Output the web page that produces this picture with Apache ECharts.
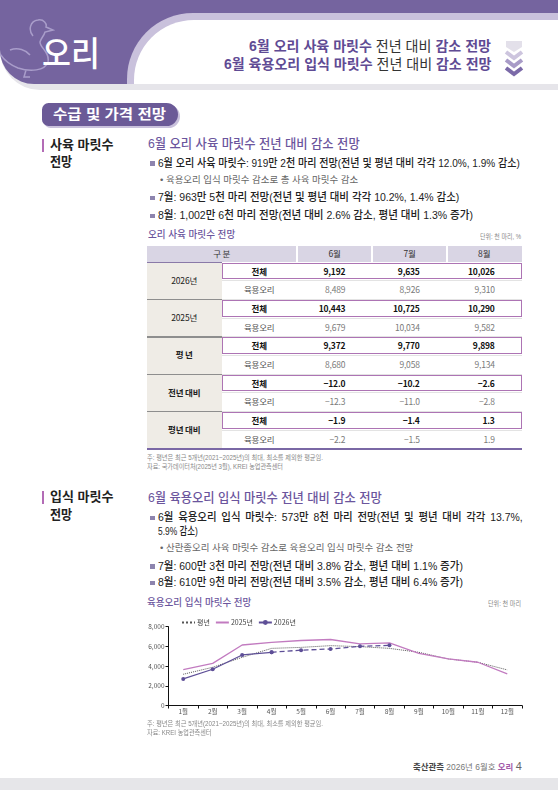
<!DOCTYPE html>
<html>
<head>
<meta charset="utf-8">
<script src="https://cdn.jsdelivr.net/npm/echarts@6/dist/echarts.min.js"></script>
<style>
  body { margin: 0; width: 558px; height: 790px; position: relative; overflow: hidden; background: #fff;
         font-family: "Noto Sans CJK KR", "Noto Sans", sans-serif; color: #222; }
  .t { position: absolute; white-space: nowrap; transform-origin: 0 50%;
       font-family: "Liberation Sans", "Noto Sans CJK KR", sans-serif; }
  .abs { position: absolute; }
  .purple { color: #5f4b94; font-weight: 700; }
</style>
</head>
<body>
<!-- header -->
<div class="abs" style="left:0;top:0;width:558px;height:90px;background:#e6e5ea;border-bottom-left-radius:40px;"></div>
<div class="abs" style="left:0;top:0;width:558px;height:84px;background:#75649f;border-bottom-left-radius:34px;"></div>
<div class="abs" style="left:127px;top:13px;width:431px;height:71px;background:#c9c1dc;border-top-left-radius:66px;"></div>
<div class="abs" style="left:134px;top:20px;width:424px;height:64px;background:#fff;border-top-left-radius:60px;"></div>
<svg class="abs" style="left:0;top:0" width="70" height="84">
  <path d="M33 36 C28 30 30 21 38 20 C44 19 47 24 46 27 L53 30 L45 32 C44 36 41 38 40 42 C40 48 50 52 48 62 C45 71 30 72 18 68 C10 65 4 60 0 54 M10 50 C18 47 26 50 30 55 M26 70 L24 77 L30 77" fill="none" stroke="#a99dca" stroke-width="1.5"/>
</svg>
<svg class="abs" style="left:504px;top:39px" width="20" height="40">
  <path d="M2 2 L18 2 L18 8 L10 13 L2 8 Z" fill="#e3e0ea"/>
  <polyline points="2,13 10,19 18,13" fill="none" stroke="#cdc5de" stroke-width="4"/>
  <polyline points="2,21 10,27 18,21" fill="none" stroke="#a89bc7" stroke-width="4"/>
  <polyline points="2,29 10,35 18,29" fill="none" stroke="#7b6aa8" stroke-width="4"/>
</svg>
<div class="abs" style="left:42px;top:103px;width:136px;height:23px;background:#6b5a97;border-radius:8px 14px 14px 8px;box-shadow:2px 2px 0 #c9c1dc;"></div>

<!-- section bars -->
<div class="abs" style="left:42px;top:139px;width:2.2px;height:13px;background:#b36cb6;"></div>
<div class="abs" style="left:42px;top:491px;width:2.2px;height:13px;background:#b36cb6;"></div>

<div id="table" class="abs" style="left:146.7px;top:246px;width:375px;height:203px;"></div>
<div id="chart" class="abs" style="left:140px;top:608px;width:400px;height:112px;"></div>

<div class="abs" style="left:0;top:778px;width:558px;height:12px;background:#e6e6e9;"></div>

<script>
// table data
const tableMonths = ['6월', '7월', '8월'];
const tableGroups = ['2026년', '2025년', '평 년', '전년 대비', '평년 대비'];
const rowLabels = ['전체', '육용오리'];
const totalRows = [
  [9192, 9635, 10026],
  [10443, 10725, 10290],
  [9372, 9770, 9898],
  [-12.0, -10.2, -2.6],
  [-1.9, -1.4, 1.3]
];
const broilerRows = [
  [8489, 8926, 9310],
  [9679, 10034, 9582],
  [8680, 9058, 9134],
  [-12.3, -11.0, -2.8],
  [-2.2, -1.5, 1.9]
];

// chart data
const chartMonths = ['1월', '2월', '3월', '4월', '5월', '6월', '7월', '8월', '9월', '10월', '11월', '12월'];
const avgValues = [3170, 3880, 4890, 5800, 5900, 6075, 5975, 5800, 5400, 4725, 4390, 3615];
const y2025Values = [3650, 4280, 6140, 6400, 6600, 6700, 6250, 6350, 5300, 4730, 4390, 3210];
const y2026Actual = [2700, 3680, 5130, 5400, null, null, null, null, null, null, null, null];
const y2026Forecast = [null, null, null, 5400, 5620, 5738, 6003, 6109, null, null, null, null];
const yMin = 0, yMax = 8000, yStep = 2000;

// text placement: squeeze each line (the print font is condensed) to the width seen in the reference
function place(html, x, y, size, w, css) {
  const el = document.createElement('div');
  el.className = 't';
  el.innerHTML = html;
  const lh = size * 1.08;
  el.style.cssText += 'left:' + x + 'px;top:' + (y - lh / 2) + 'px;font-size:' + size +
    'px;line-height:' + lh + 'px;' + (css || '');
  document.body.appendChild(el);
  if (w) {
    const nat = el.getBoundingClientRect().width;
    el.style.transform = 'scaleX(' + (w / nat) + ')';
  }
  return el;
}
function bullet(x, y) {
  const b = document.createElement('div');
  b.className = 'abs';
  b.style.cssText = 'left:' + x + 'px;top:' + (y - 2.3) + 'px;width:4.6px;height:4.6px;background:#8d84ae;';
  document.body.appendChild(b);
}

const P = s => '<span class="purple">' + s + '</span>';
place('오리', 42, 54, 34, 58, 'color:#fff;font-weight:500;');
place(P('6월 오리 사육 마릿수') + ' 전년 대비 ' + P('감소 전망'), 249, 46.7, 14, 242, 'color:#333;');
place(P('6월 육용오리 입식 마릿수') + ' 전년 대비 ' + P('감소 전망'), 223.5, 65, 14, 267.5, 'color:#333;');
place('수급 및 가격 전망', 53, 114.5, 14, 113, 'color:#fff;font-weight:700;');

const titleCss = 'color:#6b559d;font-weight:500;';
const labelCss = 'color:#222;font-weight:700;';
const textCss = 'color:#222;font-weight:500;';
const subCss = 'color:#666;';
const noteCss = 'color:#888;';

// section 1
place('사육 마릿수', 49.5, 145, 13, 63.5, labelCss);
place('전망', 49.5, 162, 13, 22.2, labelCss);
place('6월 오리 사육 마릿수 전년 대비 감소 전망', 147.7, 144, 13, 211.7, titleCss);
bullet(150, 163.5);
place('6월 오리 사육 마릿수: 919만 2천 마리 전망(전년 및 평년 대비 각각 12.0%, 1.9% 감소)', 157.7, 163.3, 11.5, 361.9, textCss);
place('• 육용오리 입식 마릿수 감소로 총 사육 마릿수 감소', 159.5, 180, 9.5, 198.2, subCss);
bullet(150, 198);
place('7월: 963만 5천 마리 전망(전년 및 평년 대비 각각 10.2%, 1.4% 감소)', 157.7, 197.7, 11.5, 301.3, textCss);
bullet(150, 216);
place('8월: 1,002만 6천 마리 전망(전년 대비 2.6% 감소, 평년 대비 1.3% 증가)', 157.7, 215.7, 11.5, 314.9, textCss);
place('오리 사육 마릿수 전망', 147.7, 235, 10, 87.2, titleCss);
place('단위: 천 마리, %', 480.4, 237, 6.5, 41, noteCss);
place('주: 평년은 최근 5개년(2021~2025년)의 최대, 최소를 제외한 평균임.', 147, 457.7, 6.5, 176, noteCss);
place('자료: 국가데이터처(2025년 3월), KREI 농업관측센터', 147, 466.7, 6.5, 136, noteCss);

// section 2
place('입식 마릿수', 49.5, 497.3, 13, 63.5, labelCss);
place('전망', 49.5, 515, 13, 22.2, labelCss);
place('6월 육용오리 입식 마릿수 전년 대비 감소 전망', 147.7, 498.3, 13, 233.8, titleCss);
bullet(150, 518);
place('6월 육용오리 입식 마릿수: 573만 8천 마리 전망(전년 및 평년 대비 각각 13.7%,', 157.7, 517.7, 11.5, 364.7, textCss + 'word-spacing:2px;');
place('5.9% 감소)', 157.7, 531.7, 11.5, 39.8, textCss);
place('• 산란종오리 사육 마릿수 감소로 육용오리 입식 마릿수 감소 전망', 159.5, 548.3, 9.5, 253.3, subCss);
bullet(150, 566.3);
place('7월: 600만 3천 마리 전망(전년 대비 3.8% 감소, 평년 대비 1.1% 증가)', 157.7, 566, 11.5, 304.9, textCss);
bullet(150, 583);
place('8월: 610만 9천 마리 전망(전년 대비 3.5% 감소, 평년 대비 6.4% 증가)', 157.7, 582.7, 11.5, 304.9, textCss);
place('육용오리 입식 마릿수 전망', 147.3, 603, 10, 104.4, titleCss);
place('단위: 천 마리', 488.3, 604, 6.5, 33, noteCss);
place('주: 평년은 최근 5개년(2021~2025년)의 최대, 최소를 제외한 평균임.', 147.3, 724, 6.5, 176, noteCss);
place('자료: KREI 농업관측센터', 147.3, 732.5, 6.5, 64.4, noteCss);

// footer
place('<b style="color:#444">축산관측</b> <span style="color:#777">2026년 6월호</span> <b style="color:#a35aaa">오리</b> <span style="color:#666;font-size:11px">4</span>',
  413, 767, 8.5, 108.7, '');

// table
const tbl = document.getElementById('table');
const colX = [0, 75, 150, 225.6, 300, 375];
const headH = 15.7, rowH = 18.66;
function box(css) {
  const d = document.createElement('div');
  d.className = 'abs';
  d.style.cssText = css;
  tbl.appendChild(d);
  return d;
}
function cellText(text, x, w, y, h, css, align) {
  const d = box('left:' + x + 'px;top:' + y + 'px;width:' + w + 'px;height:' + h + 'px;line-height:' + h +
    'px;font-size:8.5px;letter-spacing:-0.2px;text-align:' + (align || 'center') + ';' + css);
  d.textContent = text;
  return d;
}
const fmt = (v, pct) => pct ? (v < 0 ? '−' : '') + Math.abs(v).toFixed(1) : v.toLocaleString('en-US');

box('left:0;top:0;width:375px;height:' + headH + 'px;background:#d9d5e4;');
[150, 225.6, 300].forEach(x => box('left:' + (x - 1) + 'px;top:0;width:2px;height:' + headH + 'px;background:#fff;'));
cellText('구 분', 0, 150, 0, headH, 'color:#333;font-size:8.5px;');
tableMonths.forEach((m, i) => cellText(m, colX[i + 2], colX[i + 3] - colX[i + 2], 0, headH, 'color:#333;'));

tableGroups.forEach((g, gi) => {
  const top = headH + gi * rowH * 2;
  const pct = gi >= 3;
  box('left:0;top:' + top + 'px;width:75px;height:' + (rowH * 2) + 'px;background:#efece6;');
  box('left:0;top:' + top + 'px;width:75px;height:1.2px;background:' + (gi === 0 ? '#8a7aa8' : '#8e8e8e') + ';');
  box('left:75px;top:' + (top + rowH) + 'px;width:300px;height:1px;background:#e3e3e3;');
  if (gi > 0) box('left:75px;top:' + top + 'px;width:300px;height:1px;background:#e3e3e3;');
  cellText(g, 0, 75, top, rowH * 2, 'color:#222;' + (gi >= 2 ? 'font-weight:700;' : ''));
  [totalRows[gi], broilerRows[gi]].forEach((vals, ri) => {
    const y = top + ri * rowH;
    const strong = ri === 0;
    cellText(rowLabels[ri], 75, 75, y, rowH, strong ? 'color:#111;font-weight:700;' : 'color:#555;');
    vals.forEach((v, ci) => {
      const x = colX[ci + 2], w = colX[ci + 3] - x;
      cellText(fmt(v, pct), x, w - 27, y, rowH, strong ? 'color:#111;font-weight:600;' : 'color:#7a7a7a;', 'right');
    });
  });
  box('left:75px;top:' + (top + 1) + 'px;width:300px;height:' + (rowH - 2) + 'px;border:1.6px solid #ad74b4;box-sizing:border-box;');
});
box('left:0;top:' + (headH + rowH * 10) + 'px;width:375px;height:1.5px;background:#7a68a5;');

// chart
const chart = echarts.init(document.getElementById('chart'));
const font = '"Noto Sans CJK KR", "Noto Sans", sans-serif';
chart.setOption({
  animation: false,
  textStyle: { fontFamily: font },
  legend: {
    data: [
      { name: '평년', itemStyle: { opacity: 0 } },
      { name: '2025년', itemStyle: { opacity: 0 } },
      '2026년'
    ],
    left: 36, top: 6,
    itemWidth: 13, itemHeight: 6, itemGap: 5,
    textStyle: { fontSize: 7, color: '#444', padding: [0, 0, 0, -3] }
  },
  grid: { left: 28.5, right: 18, top: 18.7, bottom: 14.5 },
  xAxis: {
    type: 'category',
    data: chartMonths,
    boundaryGap: true,
    axisLine: { lineStyle: { color: '#111', width: 1 } },
    axisTick: { show: true, interval: 0, length: 3, lineStyle: { color: '#111' } },
    axisLabel: { fontSize: 6.5, color: '#555', margin: 3, interval: 0 }
  },
  yAxis: {
    type: 'value',
    min: yMin, max: yMax, interval: yStep,
    axisLine: { show: true, lineStyle: { color: '#111', width: 1 } },
    axisTick: { show: true, length: 3, lineStyle: { color: '#111' } },
    splitLine: { show: false },
    axisLabel: { fontSize: 6.5, color: '#555', margin: 4, formatter: v => v.toLocaleString('en-US') }
  },
  series: [
    { name: '평년', type: 'line', data: avgValues, symbol: 'none',
      lineStyle: { color: '#555', width: 1, type: 'dotted' }, itemStyle: { color: '#555' } },
    { name: '2025년', type: 'line', data: y2025Values, symbol: 'none',
      lineStyle: { color: '#c27bc0', width: 1.3 }, itemStyle: { color: '#c27bc0' } },
    { name: '2026년', type: 'line', data: y2026Actual, symbol: 'circle', symbolSize: 4,
      lineStyle: { color: '#5e4f97', width: 1.3 }, itemStyle: { color: '#5e4f97' } },
    { name: '2026년 전망', type: 'line', data: y2026Forecast, symbol: 'circle', symbolSize: 4,
      lineStyle: { color: '#5e4f97', width: 1.3, type: [5, 3] }, itemStyle: { color: '#5e4f97' } }
  ]
});
</script>
</body>
</html>
